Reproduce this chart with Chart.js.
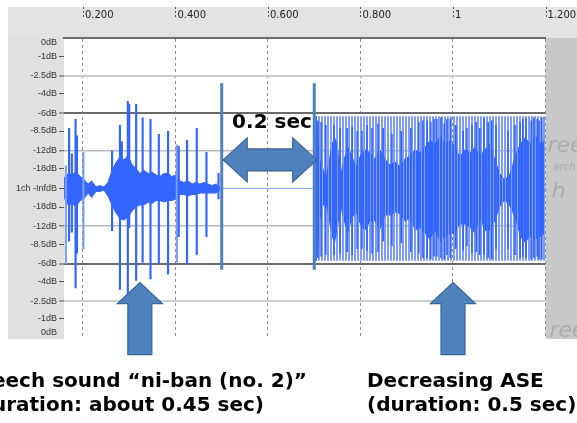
<!DOCTYPE html>
<html>
<head>
<meta charset="utf-8">
<script src="https://cdn.jsdelivr.net/npm/chart.js@4.4.0/dist/chart.umd.min.js"></script>
<style>
  body { margin: 0; background: #fff; }
  canvas { display: block; }
</style>
</head>
<body>
<canvas id="wave" width="577" height="423"></canvas>
<script>
// time ruler
const xTickVals = [0.2, 0.4, 0.6, 0.8, 1.0, 1.2];
const xTickLabels = ['0.200', '0.400', '0.600', '0.800', '1', '1.200'];

// amplitude ruler (bottom to top)
const yTickVals = [-0.96, -0.867, -0.75, -0.621, -0.5, -0.369, -0.25, -0.123, 0,
                   0.13, 0.25, 0.382, 0.5, 0.628, 0.75, 0.874, 0.967];
const yTickLabels = ['0dB', '-1dB', '-2.5dB', '-4dB', '-6dB', '-8.5dB', '-12dB', '-18dB', '1ch -InfdB',
                     '-18dB', '-12dB', '-8.5dB', '-6dB', '-4dB', '-2.5dB', '-1dB', '0dB'];

// speech "ni-ban": dense body envelope
const speechT  = [0.159, 0.168, 0.176, 0.185, 0.194, 0.202, 0.211, 0.219, 0.228, 0.237,
                  0.245, 0.254, 0.263, 0.271, 0.280, 0.289, 0.297, 0.306, 0.315, 0.323,
                  0.332, 0.341, 0.349, 0.358, 0.366, 0.375, 0.384, 0.392, 0.401, 0.410,
                  0.418, 0.427, 0.436, 0.444, 0.453, 0.462, 0.470, 0.479, 0.488, 0.496];
const speechHi = [0.07, 0.10, 0.09, 0.11, 0.08, 0.06, 0.03, 0.05, 0.01, 0.02,
                  0.01, 0.04, 0.12, 0.17, 0.21, 0.19, 0.22, 0.16, 0.13, 0.10,
                  0.12, 0.10, 0.11, 0.09, 0.08, 0.10, 0.10, 0.08, 0.09, 0.05,
                  0.04, 0.05, 0.03, 0.04, 0.03, 0.04, 0.03, 0.02, 0.03, 0.01];
const speechLo = [-0.06, -0.11, -0.10, -0.12, -0.08, -0.07, -0.03, -0.06, -0.02, -0.02,
                  -0.01, -0.05, -0.11, -0.16, -0.20, -0.21, -0.19, -0.15, -0.12, -0.11,
                  -0.11, -0.09, -0.10, -0.08, -0.08, -0.09, -0.08, -0.08, -0.07, -0.04,
                  -0.04, -0.05, -0.04, -0.04, -0.03, -0.03, -0.03, -0.03, -0.03, -0.01];

// speech: individual peaks
const spikeT  = [0.170, 0.176, 0.184, 0.187, 0.263, 0.280, 0.284, 0.297, 0.300, 0.315,
                 0.329, 0.346, 0.364, 0.384, 0.407, 0.425, 0.446, 0.467, 0.493];
const spikeHi = [0.40, 0.23, 0.46, 0.35, 0.25, 0.42, 0.31, 0.58, 0.56, 0.56,
                 0.47, 0.46, 0.36, 0.38, 0.28, 0.32, 0.40, 0.24, 0.10];
const spikeLo = [-0.35, -0.29, -0.66, -0.43, -0.28, -0.67, -0.20, -0.70, -0.26, -0.61,
                 -0.49, -0.60, -0.50, -0.57, -0.32, -0.50, -0.44, -0.32, -0.07];
const faintT  = [0.163, 0.201, 0.403];
const faintHi = [0.15, 0.24, 0.29];
const faintLo = [-0.50, -0.40, -0.49];

// silence between the two sounds
const silenceT = [0.497, 0.704];
const silenceY = [0, 0];

// decreasing ASE: outer comb and inner body
const aseT  = [0.704, 1.2];
const aseHi = [0.48, 0.48];
const aseLo = [-0.48, -0.48];
const aseBodyT  = [0.704, 0.708, 0.712, 0.719, 0.725, 0.732, 0.738, 0.745, 0.751, 0.758,
                   0.764, 0.773, 0.782, 0.790, 0.799, 0.810, 0.821, 0.831, 0.842, 0.853,
                   0.864, 0.875, 0.885, 0.896, 0.907, 0.918, 0.929, 0.940, 0.950, 0.961,
                   0.972, 0.983, 0.994, 1.004, 1.015, 1.026, 1.037, 1.048, 1.058, 1.069,
                   1.080, 1.091, 1.102, 1.112, 1.123, 1.134, 1.145, 1.156, 1.167, 1.177,
                   1.188, 1.199];
const aseBodyHi = [0.48, 0.40, 0.20, 0.14, 0.08, 0.20, 0.30, 0.34, 0.28, 0.12,
                   0.20, 0.28, 0.22, 0.15, 0.22, 0.26, 0.24, 0.20, 0.26, 0.20,
                   0.16, 0.18, 0.15, 0.20, 0.22, 0.26, 0.24, 0.28, 0.32, 0.30,
                   0.35, 0.30, 0.32, 0.28, 0.22, 0.26, 0.24, 0.28, 0.22, 0.26,
                   0.30, 0.20, 0.10, 0.06, 0.10, 0.22, 0.30, 0.34, 0.30, 0.36,
                   0.30, 0.32];
const aseBodyLo = [-0.48, -0.42, -0.22, -0.12, -0.10, -0.22, -0.32, -0.36, -0.26, -0.14,
                   -0.22, -0.30, -0.20, -0.16, -0.24, -0.28, -0.22, -0.22, -0.28, -0.18,
                   -0.18, -0.16, -0.17, -0.22, -0.20, -0.28, -0.26, -0.30, -0.34, -0.28,
                   -0.36, -0.32, -0.30, -0.30, -0.24, -0.24, -0.26, -0.30, -0.20, -0.28,
                   -0.28, -0.22, -0.12, -0.08, -0.12, -0.20, -0.32, -0.36, -0.32, -0.34,
                   -0.32, -0.30];
const aseSpikeT  = [0.704, 0.708, 0.715, 0.725, 0.743, 0.756, 0.771, 0.782, 0.793, 0.803,
                    0.814, 0.825, 0.838, 0.849, 0.868, 0.888, 0.909, 0.926, 0.935, 0.944,
                    0.952, 0.959, 0.965, 0.974, 0.981, 0.987, 0.994, 1.006, 1.022, 1.030,
                    1.041, 1.050, 1.058, 1.067, 1.076, 1.084, 1.093, 1.119, 1.134, 1.145,
                    1.151, 1.158, 1.169, 1.175, 1.182, 1.186, 1.192];
const aseSpikeHi = [0.48, 0.45, 0.44, 0.42, 0.42, 0.40, 0.40, 0.41, 0.38, 0.38,
                    0.42, 0.40, 0.43, 0.40, 0.36, 0.38, 0.40, 0.44, 0.45, 0.45,
                    0.44, 0.46, 0.46, 0.47, 0.43, 0.46, 0.46, 0.42, 0.38, 0.40,
                    0.42, 0.44, 0.40, 0.47, 0.44, 0.45, 0.42, 0.38, 0.42, 0.44,
                    0.46, 0.47, 0.45, 0.47, 0.46, 0.45, 0.47];
const aseSpikeLo = [-0.48, -0.46, -0.45, -0.44, -0.44, -0.43, -0.42, -0.44, -0.40, -0.40,
                    -0.41, -0.43, -0.42, -0.35, -0.38, -0.36, -0.42, -0.43, -0.46, -0.46,
                    -0.47, -0.45, -0.45, -0.46, -0.47, -0.44, -0.46, -0.40, -0.41, -0.38,
                    -0.43, -0.42, -0.44, -0.44, -0.46, -0.47, -0.40, -0.40, -0.44, -0.46,
                    -0.45, -0.46, -0.47, -0.46, -0.45, -0.47, -0.47];

// annotations
const markerTimes = [0.5, 0.7];
const markerRange = [-0.54, 0.70];
const spanAmp = 0.19;
const spanText = '0.2 sec';
const arrowTimes = [0.323, 1.0];
const arrowTipAmp = -0.625;
const leftCaption = ['Speech sound \u201cni-ban (no. 2)\u201d', '(duration: about 0.45 sec)'];
const rightCaption = ['Decreasing ASE', '(duration: 0.5 sec)'];

const BRIGHT = '#3366ff';
const LIGHT = '#7f9cfa';
const NOTE = '#4f81bd';
const NOTE_EDGE = '#3a6595';

function stripes(cols) {
    const c = document.createElement('canvas');
    c.width = cols.length; c.height = 1;
    const g = c.getContext('2d');
    cols.forEach((col, i) => { if (col) { g.fillStyle = col; g.fillRect(i, 0, 1, 1); } });
    return g.createPattern(c, 'repeat');
}
const lightComb = stripes([LIGHT, LIGHT, null]);
const brightComb = stripes([BRIGHT, null, BRIGHT]);

const pts = (xs, ys) => xs.map((x, i) => ({x: x, y: ys[i]}));
const bars = (xs, lo, hi) => xs.map((x, i) => ({x: x, y: [lo[i], hi[i]]}));

const gridLook = {
    '-2.5dB': ['#cccccc', 2],
    '-6dB': ['#6b6b6b', 2],
    '-12dB': ['#b9b9b9', 1.5]
};

function centerLine(c) {
    const ch = c.chart;
    const xs = ch.scales.x;
    const area = ch.chartArea;
    if (!area || !xs) return '#5b6079';
    const w = area.right - area.left;
    const f0 = Math.min(1, Math.max(0, (xs.getPixelForValue(silenceT[0]) - area.left) / w));
    const f1 = Math.min(1, Math.max(0, (xs.getPixelForValue(silenceT[1]) - area.left) / w));
    const g = ch.ctx.createLinearGradient(area.left, 0, area.right, 0);
    g.addColorStop(0, '#5b6079');
    g.addColorStop(f0, '#5b6079');
    g.addColorStop(f0, '#8eaaff');
    g.addColorStop(f1, '#8eaaff');
    g.addColorStop(f1, '#5b6079');
    g.addColorStop(1, '#5b6079');
    return g;
}

const panels = {
    id: 'panels',
    beforeDraw(chart) {
        const {ctx, chartArea: a} = chart;
        ctx.save();
        ctx.fillStyle = '#ffffff';
        ctx.fillRect(0, 0, chart.width, chart.height);
        ctx.fillStyle = '#e3e3e3';
        ctx.fillRect(8, 7, chart.width - 8, a.top - 7);
        ctx.fillStyle = '#e0e0e0';
        ctx.fillRect(8, a.top, a.left - 8, a.bottom - a.top);
        ctx.fillStyle = '#c8c8c8';
        ctx.fillRect(a.right, a.top, chart.width - a.right, a.bottom - a.top);
        // faint watermark in the grey margin
        ctx.fillStyle = 'rgba(110,110,110,0.3)';
        ctx.font = 'italic 22px "DejaVu Sans", sans-serif';
        ctx.fillText('ree', a.right + 2, 152);
        ctx.fillText('h', a.right + 6, 198);
        ctx.fillText('ree', a.right + 4, a.bottom - 2);
        ctx.font = 'italic 10px "DejaVu Sans", sans-serif';
        ctx.fillText('arch', a.right + 8, 170);
        ctx.restore();
    }
};

const notes = {
    id: 'notes',
    afterDraw(chart) {
        const {ctx} = chart;
        const xs = chart.scales.x, ys = chart.scales.y;
        ctx.save();

        // ruler tick marks
        ctx.strokeStyle = '#555';
        ctx.lineWidth = 1;
        ctx.setLineDash([2, 2]);
        xTickVals.forEach(v => {
            const px = Math.round(xs.getPixelForValue(v)) + 0.5;
            ctx.beginPath(); ctx.moveTo(px, 7); ctx.lineTo(px, 19); ctx.stroke();
        });
        ctx.setLineDash([]);

        // selection markers
        ctx.strokeStyle = NOTE;
        ctx.lineWidth = 3;
        markerTimes.forEach(t => {
            const px = xs.getPixelForValue(t);
            ctx.beginPath();
            ctx.moveTo(px, ys.getPixelForValue(markerRange[1]));
            ctx.lineTo(px, ys.getPixelForValue(markerRange[0]));
            ctx.stroke();
        });

        // double arrow between markers
        const x0 = xs.getPixelForValue(markerTimes[0]) + 1.5;
        const x1 = xs.getPixelForValue(markerTimes[1]) + 2.5;
        const yc = ys.getPixelForValue(spanAmp);
        const hl = 24, hh = 22, sh = 11;
        ctx.beginPath();
        ctx.moveTo(x0, yc);
        ctx.lineTo(x0 + hl, yc - hh); ctx.lineTo(x0 + hl, yc - sh);
        ctx.lineTo(x1 - hl, yc - sh); ctx.lineTo(x1 - hl, yc - hh);
        ctx.lineTo(x1, yc);
        ctx.lineTo(x1 - hl, yc + hh); ctx.lineTo(x1 - hl, yc + sh);
        ctx.lineTo(x0 + hl, yc + sh); ctx.lineTo(x0 + hl, yc + hh);
        ctx.closePath();
        ctx.fillStyle = NOTE; ctx.fill();
        ctx.strokeStyle = NOTE_EDGE; ctx.lineWidth = 1.2; ctx.stroke();

        ctx.fillStyle = '#000';
        ctx.font = 'bold 20px "DejaVu Sans", sans-serif';
        ctx.textAlign = 'center';
        ctx.textBaseline = 'alphabetic';
        ctx.fillText(spanText, (x0 + x1) / 2 + 2, 128);

        // up arrows
        arrowTimes.forEach(t => {
            const xc = xs.getPixelForValue(t);
            const yt = ys.getPixelForValue(arrowTipAmp);
            const hw = 22.5, ah = 21, sw = 12, len = 72;
            ctx.beginPath();
            ctx.moveTo(xc, yt);
            ctx.lineTo(xc + hw, yt + ah); ctx.lineTo(xc + sw, yt + ah);
            ctx.lineTo(xc + sw, yt + len); ctx.lineTo(xc - sw, yt + len);
            ctx.lineTo(xc - sw, yt + ah); ctx.lineTo(xc - hw, yt + ah);
            ctx.closePath();
            ctx.fillStyle = NOTE; ctx.fill();
            ctx.strokeStyle = NOTE_EDGE; ctx.lineWidth = 1.2; ctx.stroke();
        });

        // captions
        ctx.fillStyle = '#000';
        ctx.font = 'bold 20px "DejaVu Sans", sans-serif';
        ctx.textAlign = 'right';
        ctx.fillText(leftCaption[0], 307, 387);
        ctx.fillText(leftCaption[1], 264, 411);
        ctx.textAlign = 'left';
        ctx.fillText(rightCaption[0], 367, 387);
        ctx.fillText(rightCaption[1], 367, 411);
        ctx.restore();
    }
};

const config = {
    type: 'bar',
    data: {
        datasets: [
            {   // outer comb of the ASE
                type: 'line', data: pts(aseT, aseHi), fill: '+1',
                backgroundColor: lightComb, borderColor: 'rgba(0,0,0,0)', borderWidth: 1,
                pointRadius: 0, order: 9
            },
            {
                type: 'line', data: pts(aseT, aseLo), fill: false,
                borderColor: 'rgba(0,0,0,0)', borderWidth: 1, pointRadius: 0, order: 9
            },
            {   // inner body of the ASE
                type: 'line', data: pts(aseBodyT, aseBodyHi), fill: '+1',
                backgroundColor: brightComb, borderColor: 'rgba(0,0,0,0)', borderWidth: 1,
                pointRadius: 0, order: 8
            },
            {
                type: 'line', data: pts(aseBodyT, aseBodyLo), fill: false,
                borderColor: 'rgba(0,0,0,0)', borderWidth: 1, pointRadius: 0, order: 8
            },
            {
                type: 'line', data: pts(silenceT, silenceY), fill: false,
                borderColor: '#8eaaff', borderWidth: 1, pointRadius: 0, order: 7
            },
            {   // speech body
                type: 'line', data: pts(speechT, speechHi), fill: '+1',
                backgroundColor: BRIGHT, borderColor: BRIGHT, borderWidth: 1,
                pointRadius: 0, order: 6
            },
            {
                type: 'line', data: pts(speechT, speechLo), fill: false,
                borderColor: BRIGHT, borderWidth: 1, pointRadius: 0, order: 6
            },
            {
                data: bars(faintT, faintLo, faintHi), backgroundColor: LIGHT,
                barThickness: 1.5, grouped: false, order: 5
            },
            {
                data: bars(spikeT, spikeLo, spikeHi), backgroundColor: BRIGHT,
                barThickness: 1.5, grouped: false, order: 4
            },
            {
                data: bars(aseSpikeT, aseSpikeLo, aseSpikeHi), backgroundColor: BRIGHT,
                barThickness: 1, grouped: false, order: 3
            }
        ]
    },
    options: {
        responsive: false,
        animation: false,
        events: [],
        layout: { padding: { left: 8, top: 7, right: 31.5, bottom: 84 } },
        plugins: { legend: { display: false }, tooltip: { enabled: false } },
        scales: {
            x: {
                type: 'linear', position: 'top', min: 0.159, max: 1.2, offset: false, z: 1,
                afterBuildTicks: s => { s.ticks = xTickVals.map(v => ({value: v})); },
                afterFit: s => { s.height = 31; s.paddingLeft = 0; s.paddingRight = 0; },
                ticks: {
                    autoSkip: false, maxRotation: 0, minRotation: 0, align: 'start',
                    labelOffset: 2, padding: 17, color: '#222',
                    font: { family: '"DejaVu Sans", sans-serif', size: 10 },
                    callback: (v, i) => xTickLabels[i]
                },
                grid: { offset: false, color: '#8c8c8c', lineWidth: 1, drawTicks: false },
                border: { display: true, color: '#6b6b6b', width: 2, dash: [3, 3] }
            },
            y: {
                min: -1, max: 1, z: 1,
                afterBuildTicks: s => { s.ticks = yTickVals.map(v => ({value: v})); },
                afterFit: s => { s.width = 56; s.paddingTop = 0; s.paddingBottom = 0; },
                ticks: {
                    autoSkip: false, padding: 2, crossAlign: 'near', color: '#333',
                    font: { family: '"Liberation Sans", Arial, sans-serif', size: 9 },
                    callback: (v, i) => yTickLabels[i]
                },
                grid: {
                    tickLength: 5,
                    tickWidth: 1,
                    color: c => {
                        const lab = yTickLabels[c.index];
                        if (lab === '1ch -InfdB') return centerLine(c);
                        return gridLook[lab] ? gridLook[lab][0] : 'rgba(0,0,0,0)';
                    },
                    lineWidth: c => {
                        const lab = yTickLabels[c.index];
                        return gridLook[lab] ? gridLook[lab][1] : 1;
                    },
                    tickColor: c => yTickLabels[c.index] === '0dB' ? 'rgba(0,0,0,0)' : '#555'
                },
                border: { display: false }
            }
        }
    },
    plugins: [panels, notes]
};

new Chart(document.getElementById('wave'), config);
</script>
</body>
</html>
